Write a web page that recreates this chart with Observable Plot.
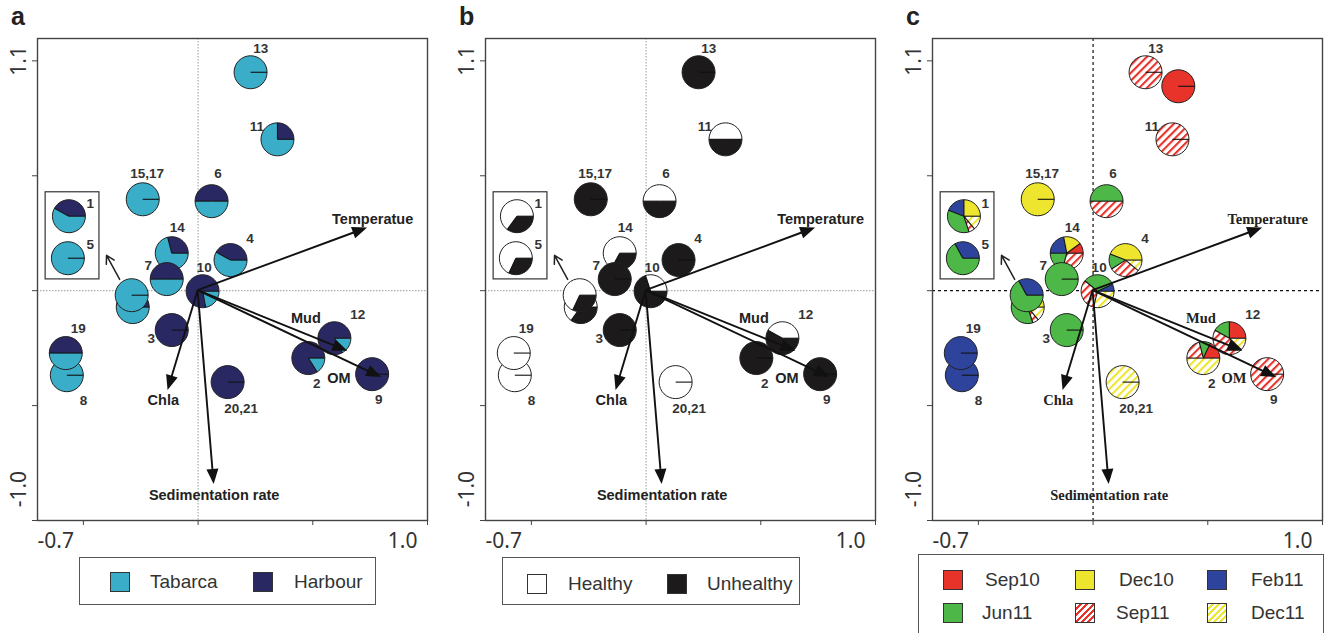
<!DOCTYPE html>
<html><head><meta charset="utf-8">
<script src="https://cdn.jsdelivr.net/npm/d3@7"></script>
<script src="https://cdn.jsdelivr.net/npm/@observablehq/plot@0.6"></script>
<style>
html,body{margin:0;padding:0;background:#fff;overflow:hidden}
#root{position:relative;width:1327px;height:633px;overflow:hidden;font-family:Arial,"Liberation Sans",sans-serif}
.panel{position:absolute;top:0}
.letter{position:absolute;top:0;font:bold 25px Arial,"Liberation Sans",sans-serif;color:#222}
.legend{position:absolute;border:1.3px solid #555;box-sizing:border-box;background:#fff}
.sw{position:absolute;width:20px;height:20px;border:1px solid #333;box-sizing:border-box}
.lt{position:absolute;font-size:19px;color:#333;line-height:20px}
</style></head>
<body><div id="root"></div>
<script>
// ---------- data ----------
const sampleIds = ["13","13b","11","15,17","6","4","14","7","1c","5c","3","10","8","19","20,21","2","12","9","1i","5i"];
const sampleX = [0.254,0.411,0.383,-0.263,0.067,0.158,-0.124,-0.148,-0.311,-0.316,-0.124,0.024,-0.627,-0.632,0.144,0.531,0.656,0.837,-0.617,-0.622];
const sampleY = [1.043,0.976,0.722,0.435,0.426,0.144,0.177,0.053,-0.081,-0.024,-0.191,-0.005,-0.407,-0.301,-0.44,-0.325,-0.23,-0.402,0.354,0.153];

// slices listed counter-clockwise from 3 o'clock: [category, fraction]
const compA = [
  [["Tabarca",1]], null,
  [["Harbour",.25],["Tabarca",.75]],
  [["Tabarca",1]],
  [["Harbour",.5],["Tabarca",.5]],
  [["Harbour",.42],["Tabarca",.58]],
  [["Harbour",.29],["Tabarca",.71]],
  [["Harbour",.5],["Tabarca",.5]],
  [["Harbour",.42],["Tabarca",.58]],
  [["Tabarca",1]],
  [["Harbour",1]],
  [["Harbour",.78],["Tabarca",.22]],
  [["Tabarca",1]],
  [["Harbour",.5],["Tabarca",.5]],
  [["Harbour",1]],
  [["Harbour",.84],["Tabarca",.16]],
  [["Harbour",.83],["Tabarca",.17]],
  [["Harbour",1]],
  [["Harbour",.42],["Tabarca",.58]],
  [["Tabarca",1]]
];
const compB = [
  [["Unhealthy",1]], null,
  [["Healthy",.5],["Unhealthy",.5]],
  [["Unhealthy",1]],
  [["Healthy",.5],["Unhealthy",.5]],
  [["Unhealthy",1]],
  [["Healthy",.67],["Unhealthy",.33]],
  [["Unhealthy",1]],
  [["Healthy",.65],["Unhealthy",.35]],
  [["Healthy",.68],["Unhealthy",.32]],
  [["Unhealthy",1]],
  [["Healthy",.3],["Unhealthy",.7]],
  [["Healthy",1]],
  [["Healthy",1]],
  [["Healthy",1]],
  [["Unhealthy",1]],
  [["Healthy",.42],["Unhealthy",.58]],
  [["Unhealthy",1]],
  [["Healthy",.65],["Unhealthy",.35]],
  [["Healthy",.68],["Unhealthy",.32]]
];
const compC = [
  [["Sep11",1]],
  [["Sep10",1]],
  [["Sep11",1]],
  [["Dec10",1]],
  [["Jun11",.5],["Sep11",.5]],
  [["Dec10",.44],["Jun11",.15],["Sep11",.30],["Dec11",.11]],
  [["Sep10",.1],["Dec10",.18],["Feb11",.22],["Jun11",.21],["Sep11",.29]],
  [["Jun11",1]],
  [["Dec10",.25],["Feb11",.19],["Jun11",.36],["Sep11",.06],["Dec11",.14]],
  [["Feb11",.33],["Jun11",.67]],
  [["Jun11",1]],
  [["Feb11",.07],["Jun11",.32],["Sep11",.32],["Dec11",.29]],
  [["Feb11",1]],
  [["Feb11",1]],
  [["Dec11",1]],
  [["Sep10",.18],["Jun11",.11],["Sep11",.21],["Dec11",.5]],
  [["Sep10",.25],["Jun11",.17],["Sep11",.46],["Dec11",.12]],
  [["Sep11",1]],
  [["Dec10",.25],["Feb11",.19],["Jun11",.36],["Sep11",.06],["Dec11",.14]],
  [["Feb11",.33],["Jun11",.67]]
];

const labelText = ["13","11","15,17","6","4","14","7","1","5","3","10","8","19","20,21","2","12","9"];
const labelX = [0.301,0.282,-0.244,0.096,0.249,-0.100,-0.239,-0.517,-0.517,-0.225,0.029,-0.550,-0.574,0.206,0.569,0.766,0.866];
const labelY = [1.158,0.785,0.560,0.560,0.249,0.301,0.120,0.416,0.220,-0.230,0.110,-0.526,-0.182,-0.565,-0.445,-0.115,-0.522];

const envNamesA = ["Temperatue","Mud","OM","Chla","Sedimentation rate"];
const envNames = ["Temperature","Mud","OM","Chla","Sedimentation rate"];
const envX = [0.813,0.718,0.88,-0.144,0.077];
const envY = [0.30,-0.29,-0.416,-0.478,-0.928];
const envLabelX = [0.837,0.517,0.675,-0.167,0.077];
const envLabelY = [0.340,-0.134,-0.421,-0.526,-0.981];

const insetBox = [{x1:-0.731,x2:-0.473,y1:0.054,y2:0.471}];
const insetArrow = [{x1:-0.376,y1:0.054,x2:-0.439,y2:0.169}];

const xTicks = [-0.55,0,0.55,1.1];
const yTicks = [-1.1,-0.55,0,0.55,1.1];
const xMin = -0.77, xMax = 1.1, yMin = -1.1, yMax = 1.207;
const xTickLabels = ["-0.7","1.0"];
const yTickLabels = ["1.1","-1.0"], yTickLabelAt = [1.1,-0.95];

const groupsA = ["Tabarca","Harbour"], colorsA = ["#3AAEC8","#2A2862"];
const groupsB = ["Healthy","Unhealthy"], colorsB = ["#ffffff","#1c1a1b"];
const groupsC = ["Sep10","Dec10","Feb11","Jun11","Sep11","Dec11"];
const colorsC = ["#E8332B","#EEE62E","#2E449C","#4DB748","hatch:#E8332B","hatch:#EEE62E"];

// ---------- drawing ----------
const R = 16.5;
const arc = d3.arc();

function pieLayer(comps, groups, colors, pid) {
  return (index, scales) => {
    const g = d3.create("svg:g");
    const defs = g.append("defs");
    const fillOf = {};
    groups.forEach((k, i) => {
      const c = colors[i];
      if (c.startsWith("hatch:")) {
        const id = `h-${pid}-${i}`;
        const p = defs.append("pattern").attr("id", id).attr("patternUnits","userSpaceOnUse")
          .attr("width",5.5).attr("height",5.5).attr("patternTransform","rotate(45)");
        p.append("rect").attr("width",5.5).attr("height",5.5).attr("fill","#fff");
        p.append("rect").attr("width",2.1).attr("height",5.5).attr("fill",c.slice(6));
        fillOf[k] = `url(#${id})`;
      } else fillOf[k] = c;
    });
    comps.forEach((slices, i) => {
      if (!slices) return;
      const cx = scales.x(sampleX[i]), cy = scales.y(sampleY[i]);
      const pg = g.append("g").attr("transform", `translate(${cx},${cy})`);
      let a0 = 0; const bounds = [];
      slices.forEach(([cat, f]) => {
        const a1 = a0 + f * 2 * Math.PI;
        pg.append("path")
          .attr("d", arc({innerRadius:0, outerRadius:R, startAngle:Math.PI/2 - a1, endAngle:Math.PI/2 - a0}))
          .attr("fill", fillOf[cat]);
        bounds.push(a0); a0 = a1;
      });
      pg.append("circle").attr("r", R).attr("fill","none").attr("stroke","#222").attr("stroke-width",1);
      bounds.forEach(a => pg.append("line").attr("x1",0).attr("y1",0)
        .attr("x2", R*Math.cos(a)).attr("y2", -R*Math.sin(a)).attr("stroke","#111").attr("stroke-width",1.1));
    });
    return g.node();
  };
}

function arrowLayer(index, scales) {
  const g = d3.create("svg:g");
  const x0 = scales.x(0), y0 = scales.y(0);
  envX.forEach((vx, i) => {
    const x1 = scales.x(vx), y1 = scales.y(envY[i]);
    const dx = x1-x0, dy = y1-y0, L = Math.hypot(dx,dy), ux = dx/L, uy = dy/L;
    const hl = 15, hw = 6;
    const bx = x1-ux*hl, by = y1-uy*hl;
    g.append("line").attr("x1",x0).attr("y1",y0).attr("x2",bx+ux*2).attr("y2",by+uy*2)
      .attr("stroke","#111").attr("stroke-width",1.9);
    g.append("path").attr("d",`M${x1},${y1}L${bx-uy*hw},${by+ux*hw}L${bx+uy*hw},${by-ux*hw}Z`).attr("fill","#111");
  });
  return g.node();
}

function panel(opts) {
  const labels = labelText.map((t,i)=>({t, x:labelX[i], y:labelY[i]}));
  const envs = opts.env.map((t,i)=>({t, x:envLabelX[i], y:envLabelY[i]}));
  const yl = yTickLabels.map((t,i)=>({t, y:yTickLabelAt[i]}));
  return Plot.plot({
    width: 440, height: 560,
    marginLeft: 37, marginRight: 13, marginTop: 38, marginBottom: 40,
    x: {domain: [xMin, xMax], axis: null},
    y: {domain: [yMin, yMax], axis: null},
    style: {background: "transparent", overflow: "visible"},
    marks: [
      Plot.ruleX([0], {stroke: opts.zeroStroke, strokeDasharray: opts.zeroDash, strokeWidth: opts.zeroWidth}),
      Plot.ruleY([0], {stroke: opts.zeroStroke, strokeDasharray: opts.zeroDash, strokeWidth: opts.zeroWidth}),
      Plot.frame({stroke: "#444", strokeWidth: 1.4}),
      Plot.axisX(xTicks, {anchor: "bottom", tickSize: 5, tickFormat: () => "", label: null, stroke: "#444"}),
      Plot.axisY(yTicks, {anchor: "left", tickSize: 5, tickFormat: () => "", label: null, stroke: "#444"}),
      Plot.text([xTickLabels[0]], {x: () => xMin, y: () => yMin, text: d => d, dy: 21, dx: 0, textAnchor: "start", fontSize: 21, fill: "#333"}),
      Plot.text([xTickLabels[1]], {x: () => xMax, y: () => yMin, text: d => d, dy: 21, dx: -10, textAnchor: "end", fontSize: 21, fill: "#333"}),
      Plot.text(yl, {x: () => xMin, y: "y", text: "t", dx: -18, rotate: -90, fontSize: 21, fill: "#333"}),
      Plot.rect(insetBox, {x1:"x1", x2:"x2", y1:"y1", y2:"y2", fill:"none", stroke:"#333", strokeWidth:1.2}),
      Plot.arrow(insetArrow, {x1:"x1", y1:"y1", x2:"x2", y2:"y2", stroke:"#222", strokeWidth:1.5, headLength:9}),
      pieLayer(opts.comp, opts.groups, opts.colors, opts.id),
      arrowLayer,
      Plot.text(labels, {x:"x", y:"y", text:"t", fontSize:13.5, fontWeight:"bold", fill:"#333", fontFamily:"Arial, 'Liberation Sans', sans-serif"}),
      Plot.text(envs, {x:"x", y:"y", text:"t", fontSize:opts.envSize, fontWeight:"bold", fill:"#222", fontFamily:opts.envFont})
    ]
  });
}

const root = document.getElementById("root");
const panels = [
  {id:"a", left:0, comp:compA, groups:groupsA, colors:colorsA, env:envNamesA, envFont:"Arial, 'Liberation Sans', sans-serif", envSize:14.5, zeroStroke:"#999", zeroDash:"1.5,1.5", zeroWidth:1},
  {id:"b", left:448, comp:compB, groups:groupsB, colors:colorsB, env:envNames, envFont:"Arial, 'Liberation Sans', sans-serif", envSize:14.5, zeroStroke:"#999", zeroDash:"1.5,1.5", zeroWidth:1},
  {id:"c", left:895, comp:compC, groups:groupsC, colors:colorsC, env:envNames, envFont:"'Times New Roman', 'Liberation Serif', serif", envSize:14.5, zeroStroke:"#111", zeroDash:"3,3", zeroWidth:1.2}
];
panels.forEach(p => {
  const svg = panel(p);
  svg.classList.add("panel");
  svg.style.left = p.left + "px";
  root.appendChild(svg);
  const L = document.createElement("div");
  L.className = "letter"; L.textContent = p.id;
  L.style.left = (p.left + 11) + "px"; L.style.top = "2px";
  root.appendChild(L);
});

function swatchBg(c) {
  if (c.startsWith("hatch:")) {
    const col = c.slice(6);
    return `repeating-linear-gradient(135deg, #fff 0px, #fff 2.5px, ${col} 2.5px, ${col} 4.5px)`;
  }
  return c;
}
function legend(box, items) {
  const d = document.createElement("div");
  d.className = "legend";
  Object.assign(d.style, {left: box[0]+"px", top: box[1]+"px", width: box[2]+"px", height: box[3]+"px"});
  items.forEach(it => {
    const s = document.createElement("div"); s.className = "sw";
    Object.assign(s.style, {left: it.sx+"px", top: it.sy+"px", background: swatchBg(it.color)});
    d.appendChild(s);
    const t = document.createElement("div"); t.className = "lt"; t.textContent = it.name;
    Object.assign(t.style, {left: it.tx+"px", top: it.sy+"px"});
    d.appendChild(t);
  });
  root.appendChild(d);
}
legend([79,557,297,48], [
  {name:groupsA[0], color:colorsA[0], sx:30, sy:14, tx:70},
  {name:groupsA[1], color:colorsA[1], sx:173, sy:14, tx:214}
]);
legend([502,557,298,48], [
  {name:groupsB[0], color:colorsB[0], sx:24, sy:16, tx:65},
  {name:groupsB[1], color:colorsB[1], sx:164, sy:16, tx:204}
]);
legend([918,554,406,90], [
  {name:groupsC[0], color:colorsC[0], sx:24, sy:15, tx:66},
  {name:groupsC[1], color:colorsC[1], sx:156, sy:15, tx:200},
  {name:groupsC[2], color:colorsC[2], sx:288, sy:15, tx:332},
  {name:groupsC[3], color:colorsC[3], sx:24, sy:48, tx:63},
  {name:groupsC[4], color:colorsC[4], sx:156, sy:48, tx:197},
  {name:groupsC[5], color:colorsC[5], sx:288, sy:48, tx:332}
]);
</script>
</body></html>
